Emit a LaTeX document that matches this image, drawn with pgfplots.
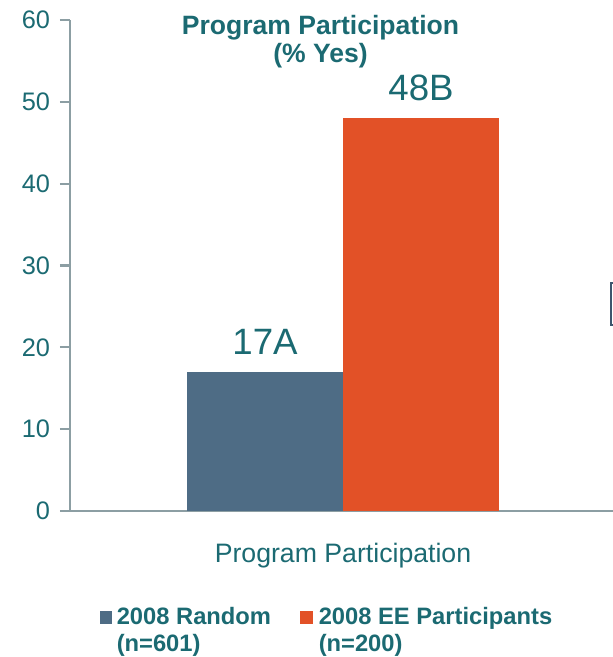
\documentclass[border=0pt]{standalone}
\usepackage{fontspec}
\setmainfont{Liberation Sans}
\usepackage{pgfplots}
\pgfplotsset{compat=1.18}
\definecolor{txt}{HTML}{1B6A72}
\definecolor{axgray}{HTML}{8C9EA3}
\definecolor{barblue}{HTML}{4E6C85}
\definecolor{barorange}{HTML}{E25127}
\definecolor{boxblue}{HTML}{3D566E}
\begin{document}
\begin{tikzpicture}[x=0.75pt,y=0.75pt]
\path[use as bounding box] (0,0) rectangle (613,657);
\begin{axis}[
  at={(52.5pt,109.5pt)}, anchor=south west,
  scale only axis,
  width=407.25pt, height=368.25pt,
  xmin=-273, xmax=270,
  ymin=0, ymax=60,
  axis lines=left,
  axis line style={axgray, line width=1.6pt, -},
  ytick={0,10,...,60},
  tick align=outside,
  major tick length=7.5pt,
  tick style={axgray, line width=1.6pt},
  yticklabel style={font=\fontsize{19}{22}\selectfont, text=txt, xshift=-4pt},
  /pgf/number format/assume math mode=true,
  xtick={0},
  xticklabels={Program Participation},
  x tick style={draw=none},
  xticklabel style={font=\fontsize{20}{24}\selectfont, text=txt, yshift=-13pt},
  extra x ticks={-273},
  extra x tick labels={},
  extra x tick style={tick style={draw=axgray, line width=1.6pt}, major tick length=6.5pt},
  ybar, bar width=156,
  point meta=explicit symbolic,
  nodes near coords,
  every node near coord/.append style={font=\fontsize{27.5}{30}\selectfont, text=txt, anchor=base, yshift=13pt, inner sep=0pt},
  clip=false,
]
\addplot[fill=barblue, draw=none, bar shift=-78] coordinates {(0,17) [17A]};
\addplot[fill=barorange, draw=none, bar shift=78] coordinates {(0,48) [48B]};
\end{axis}
% title
\node[anchor=base, font=\bfseries\fontsize{19.9}{21}\selectfont, text=txt, align=center] at (320.5,622) {Program Participation};
\node[anchor=base, font=\bfseries\fontsize{19.9}{21}\selectfont, text=txt] at (320.5,594) {(\% Yes)};
% cropped box at right edge
\draw[boxblue, line width=2pt, fill=white] (611,332) rectangle (640,374);
% legend
\fill[barblue] (100,33) rectangle (112,46);
\node[anchor=base west, font=\bfseries\fontsize{17.8}{20}\selectfont, text=txt, inner sep=0pt] at (116.5,32) {2008 Random};
\node[anchor=base west, font=\bfseries\fontsize{17.8}{20}\selectfont, text=txt, inner sep=0pt] at (116.5,5) {(n=601)};
\fill[barorange] (300,33) rectangle (313,46);
\node[anchor=base west, font=\bfseries\fontsize{17.8}{20}\selectfont, text=txt, inner sep=0pt] at (318.5,32) {2008 EE Participants};
\node[anchor=base west, font=\bfseries\fontsize{17.8}{20}\selectfont, text=txt, inner sep=0pt] at (318.5,5) {(n=200)};
\end{tikzpicture}
\end{document}
